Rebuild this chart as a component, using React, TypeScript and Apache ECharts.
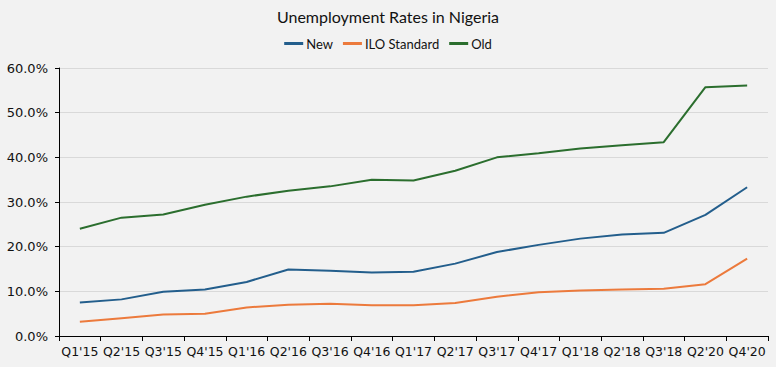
import React, { useEffect, useRef } from "react";
import * as echarts from "echarts";

const categories = ["Q1'15", "Q2'15", "Q3'15", "Q4'15", "Q1'16", "Q2'16", "Q3'16", "Q4'16", "Q1'17", "Q2'17", "Q3'17", "Q4'17", "Q1'18", "Q2'18", "Q3'18", "Q2'20", "Q4'20"];
const newRates = [7.5, 8.2, 9.9, 10.4, 12.1, 14.9, 14.6, 14.2, 14.4, 16.2, 18.8, 20.4, 21.8, 22.7, 23.1, 27.1, 33.3];
const iloRates = [3.2, 4.0, 4.8, 5.0, 6.4, 7.0, 7.2, 6.9, 6.9, 7.4, 8.8, 9.8, 10.2, 10.4, 10.6, 11.6, 17.3];
const oldRates = [24.0, 26.5, 27.2, 29.4, 31.2, 32.5, 33.5, 35.0, 34.8, 37.0, 40.0, 40.9, 42.0, 42.7, 43.4, 55.7, 56.1];
const yTicks = { min: 0, max: 60, interval: 10 };

const FONT = "Lato, 'Open Sans', sans-serif";
const AXFONT = "'DejaVu Sans', sans-serif";

export default function App() {
  const ref = useRef<HTMLDivElement>(null);
  useEffect(() => {
    if (!ref.current) return;
    const chart = echarts.init(ref.current, null, { renderer: "svg" });
    const mk = (name: string, data: number[], color: string) => ({
      name,
      type: "line",
      data,
      showSymbol: false,
      symbol: "none",
      lineStyle: { color, width: 2 },
      itemStyle: { color },
    });
    chart.setOption({
      animation: false,
      backgroundColor: "#f2f2f2",
      title: {
        text: "Unemployment Rates in Nigeria",
        left: "center",
        top: 3,
        textStyle: { fontFamily: FONT, fontSize: 16, fontWeight: "normal", color: "#111" },
      },
      legend: {
        top: 32,
        left: "center",
        icon: "rect",
        itemWidth: 19,
        itemHeight: 3,
        itemGap: 10,
        textStyle: { fontFamily: FONT, fontSize: 13, color: "#111", padding: [0, 0, 0, -2] },
        data: ["New", "ILO Standard", "Old"],
      },
      grid: { left: 59, right: 8, top: 68, bottom: 31, containLabel: false },
      xAxis: {
        type: "category",
        data: categories,
        boundaryGap: true,
        axisLine: { lineStyle: { color: "#000", width: 1 } },
        axisTick: { show: true, length: 5, lineStyle: { color: "#000" }, alignWithLabel: false },
        axisLabel: { fontFamily: AXFONT, fontSize: 12.5, color: "#111", margin: 9, interval: 0 },
      },
      yAxis: {
        type: "value",
        min: yTicks.min,
        max: yTicks.max,
        interval: yTicks.interval,
        axisLine: { show: true, lineStyle: { color: "#000", width: 1 } },
        axisTick: { show: true, length: 4, lineStyle: { color: "#000" } },
        axisLabel: { fontFamily: AXFONT, fontSize: 13, color: "#111", margin: 11, formatter: (v: number) => v.toFixed(1) + "%" },
        splitLine: { lineStyle: { color: "#d9d9d9", width: 1 } },
      },
      series: [
        mk("New", newRates, "#235e8c"),
        mk("ILO Standard", iloRates, "#ec7a3c"),
        mk("Old", oldRates, "#2b6e2e"),
      ],
    });
    return () => chart.dispose();
  }, []);
  return <div ref={ref} style={{ width: 776, height: 367, position: "absolute", left: 0, top: 0 }} />;
}
